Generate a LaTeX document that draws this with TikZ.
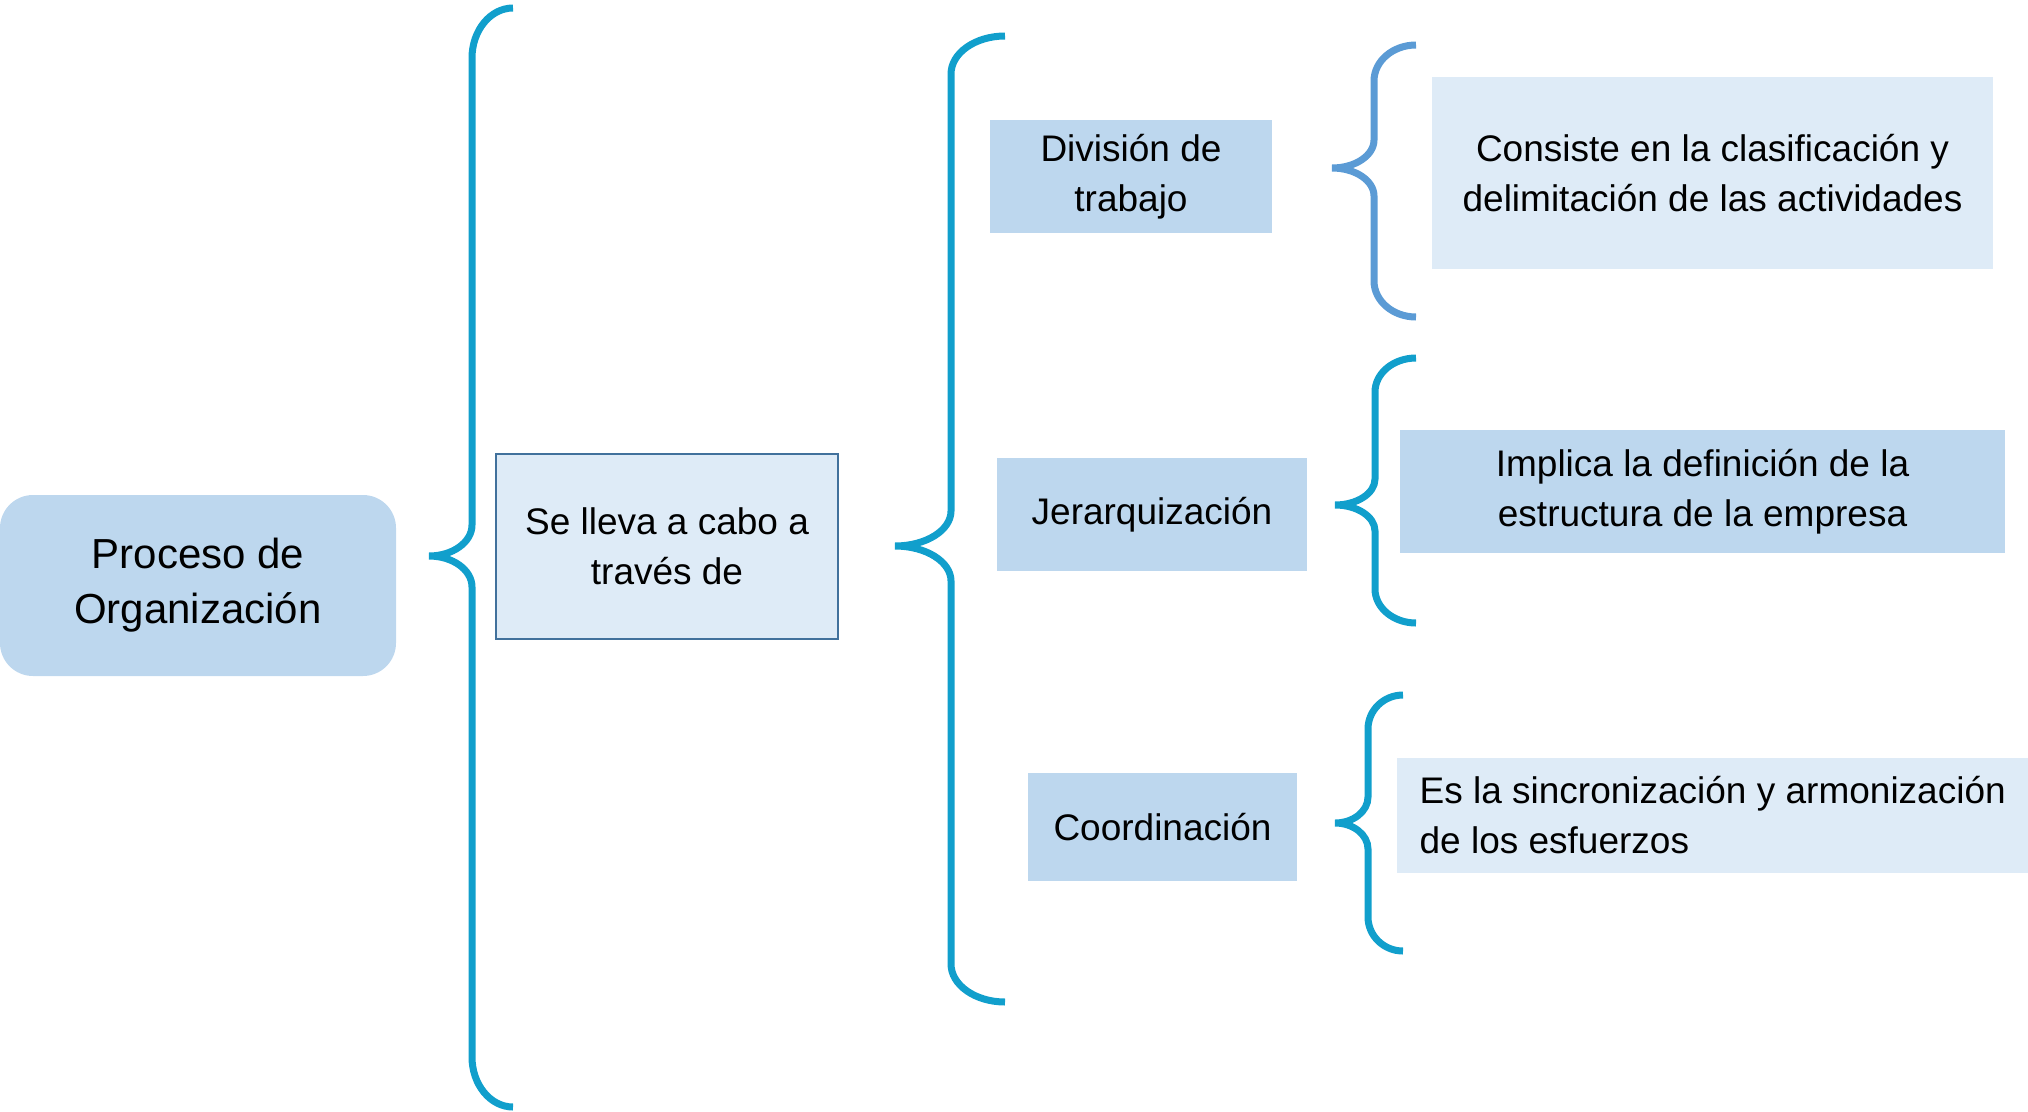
\documentclass[tikz,border=0pt]{standalone}
\usepackage{fontspec}
\setmainfont{Liberation Sans}
\usetikzlibrary{backgrounds}
\definecolor{boxdark}{RGB}{189,215,238}
\definecolor{boxlight}{RGB}{222,235,247}
\definecolor{boxline}{RGB}{65,113,156}
\definecolor{bracecyan}{RGB}{17,159,204}
\definecolor{bracesteel}{RGB}{91,155,213}
\newcommand{\thickness}{7pt}
\newcommand{\bigtext}{\fontsize{42}{55}\selectfont}
\newcommand{\boxtext}{\fontsize{37}{50}\selectfont}
% #1 colour, #2 end x, #3 stem x, #4 tip x, #5 top, #6 tip y, #7 bottom, #8 end radius, #9 tip radius
\newcommand{\curly}[9]{%
\draw[#1, line width=\thickness]
 (#2,#5) .. controls ({#3+0.448*(#2-#3)},#5) and (#3,{#5+0.448*#8}) .. (#3,{#5+#8})
 -- (#3,{#6-#9}) .. controls (#3,{#6-0.448*#9}) and ({#4+0.552*(#3-#4)},#6) .. (#4,#6)
 .. controls ({#4+0.552*(#3-#4)},#6) and (#3,{#6+0.448*#9}) .. (#3,{#6+#9})
 -- (#3,{#7-#8}) .. controls (#3,{#7-0.448*#8}) and ({#3+0.448*(#2-#3)},#7) .. (#2,#7);}

\begin{document}
\begin{tikzpicture}[x=1pt,y=-1pt,
  darkbox/.style={fill=boxdark, inner sep=0pt, align=center, font=\boxtext},
  lightbox/.style={fill=boxlight, inner sep=0pt, align=center, font=\boxtext}]
\useasboundingbox (0,0) rectangle (2028,1111);
%root
\node[darkbox, rounded corners=33pt, minimum width=396pt, minimum height=181pt, font=\bigtext] (proc) at (198,585.5) {Proceso de\\Organización};
\node[lightbox, draw=boxline, line width=2pt, minimum width=342pt, minimum height=185pt] (via) at (667,546.5) {Se lleva a cabo a\\través de};
%steps
\node[darkbox, minimum width=282pt, minimum height=113pt] (div) at (1131,176.5) {División de\\trabajo};
\node[darkbox, minimum width=310pt, minimum height=113pt] (jer) at (1152,514.5) {Jerarquización};
\node[darkbox, minimum width=269pt, minimum height=108pt] (coord) at (1162.5,827) {Coordinación};
%meanings
\node[lightbox, minimum width=561pt, minimum height=192pt] (divtxt) at (1712.5,173) {Consiste en la clasificación y\\delimitación de las actividades};
\node[darkbox, minimum width=605pt, minimum height=123pt] (jertxt) at (1702.5,491.5) {Implica la definición de la\\estructura de la empresa};
\node[lightbox, align=left, inner xsep=21pt, anchor=west, minimum width=631pt, minimum height=115pt] (coordtxt) at (1397,815.5) {Es la sincronización y armonización\\de los esfuerzos};
%braces
\curly{bracecyan}{513}{472}{429}{8}{556}{1107}{50}{31}
\curly{bracecyan}{1005}{951}{895}{36}{546}{1002}{38}{35}
\curly{bracesteel}{1416}{1374}{1332}{45}{168}{317}{36}{28}
\curly{bracecyan}{1416}{1375}{1335}{358}{505}{623}{34}{26}
\curly{bracecyan}{1403}{1368}{1335}{695}{823}{951}{34}{26}
\end{tikzpicture}
\end{document}
